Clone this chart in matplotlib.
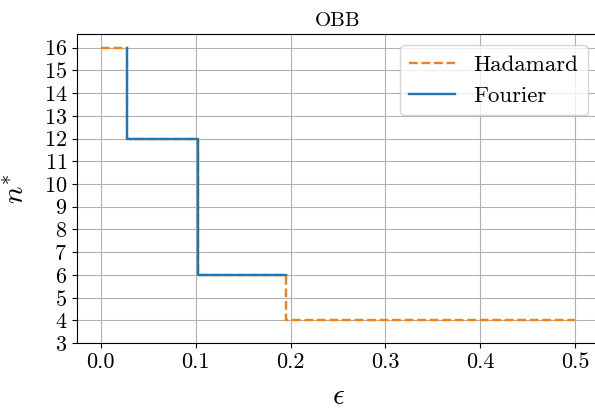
import numpy as np
import matplotlib
matplotlib.use("Agg")
import matplotlib.pyplot as plt

plt.rcParams['font.family'] = 'serif'
plt.rcParams['font.serif'] = ['cmr10']
plt.rcParams['mathtext.fontset'] = 'cm'
plt.rcParams['axes.formatter.use_mathtext'] = True
plt.rcParams['axes.unicode_minus'] = False

# optimal n vs epsilon, step changes
hadamard_eps = [0.0, 0.028, 0.103, 0.195, 0.5]
hadamard_n = [16, 12, 6, 4, 4]

fourier_eps = [0.028, 0.103, 0.195]
fourier_n = [16, 12, 6]

xticks = [0.0, 0.1, 0.2, 0.3, 0.4, 0.5]
yticks = list(range(3, 17))

fig = plt.figure(figsize=(5.95, 4.09), dpi=100)
ax = fig.add_axes([77/595, 1-343/409, (599-77)/595, (343-34)/409])

ax.plot(hadamard_eps, hadamard_n, drawstyle='steps-post', ls='--', color='C1',
        lw=1.7, label='Hadamard')
ax.plot(fourier_eps, fourier_n, drawstyle='steps-pre', color='C0',
        lw=1.7, label='Fourier')

ax.set_xlim(-0.025, 0.525)
ax.set_ylim(3, 16.6)
ax.set_xticks(xticks)
ax.set_xticklabels(['%.1f' % t for t in xticks])
ax.set_yticks(yticks)
ax.tick_params(labelsize=16)
ax.grid(True, color='#b0b0b0', lw=0.8)

ax.set_title('OBB', fontsize=15)
ax.set_xlabel(r'$\epsilon$', fontsize=21, labelpad=8)
ax.set_ylabel(r'$n^{*}$', fontsize=21, labelpad=10)

ax.legend(loc='upper right', fontsize=16.5)

fig.savefig('out.png', dpi=100)
